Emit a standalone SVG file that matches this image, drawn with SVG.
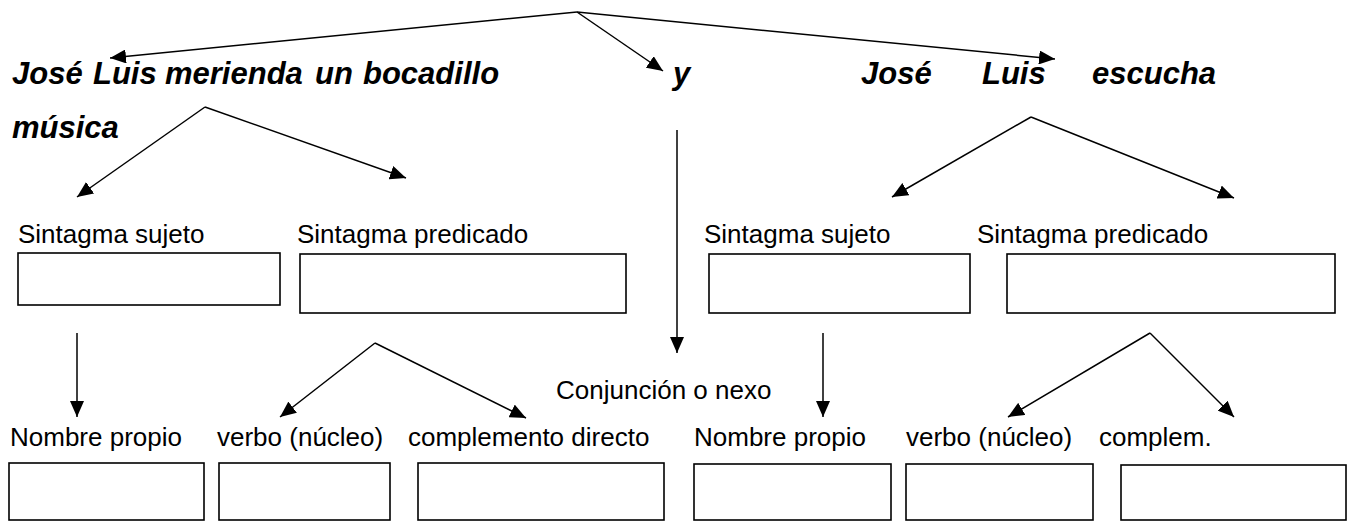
<svg xmlns="http://www.w3.org/2000/svg" width="1353" height="522" viewBox="0 0 1353 522">
<style>
.t{font-family:"Liberation Sans",Arial,sans-serif;font-size:26px;fill:#000}
.b{font-family:"Liberation Sans",Arial,sans-serif;font-size:31px;font-weight:bold;font-style:italic;fill:#000}
.box{fill:#fff;stroke:#000;stroke-width:1.6}
.c line{stroke:#000;stroke-width:1.5;marker-end:url(#ah)}
</style>
<defs>
<marker id="ah" markerUnits="userSpaceOnUse" markerWidth="16" markerHeight="14" refX="16" refY="7" orient="auto">
<path d="M0,0 L16,7 L0,14 z" fill="#000"/>
</marker>
</defs>
<rect width="1353" height="522" fill="#fff"/>
<g id="oracion1">
<text class="b" y="84"><tspan x="12">José</tspan><tspan x="93">Luis</tspan><tspan x="165">merienda</tspan><tspan x="315">un</tspan><tspan x="363">bocadillo</tspan></text>
<text class="b" x="12" y="138">música</text>
</g>
<g id="nexo"><text class="b" x="673" y="84">y</text></g>
<g id="oracion2">
<text class="b" y="84"><tspan x="861">José</tspan><tspan x="982">Luis</tspan><tspan x="1092">escucha</tspan></text>
</g>
<g id="sujeto1"><text class="t" x="18" y="243">Sintagma sujeto</text><rect class="box" x="18" y="253" width="262" height="52"/></g>
<g id="predicado1"><text class="t" x="297" y="243">Sintagma predicado</text><rect class="box" x="300" y="254" width="326" height="59"/></g>
<g id="sujeto2"><text class="t" x="704" y="243">Sintagma sujeto</text><rect class="box" x="709" y="254" width="261" height="59"/></g>
<g id="predicado2"><text class="t" x="977" y="243">Sintagma predicado</text><rect class="box" x="1007" y="254" width="328" height="59"/></g>
<g id="conjuncion"><text class="t" x="556" y="399">Conjunción o nexo</text></g>
<g id="nombre1"><text class="t" x="10" y="446">Nombre propio</text><rect class="box" x="9" y="463" width="195" height="57"/></g>
<g id="verbo1"><text class="t" x="217" y="446">verbo (núcleo)</text><rect class="box" x="219" y="463" width="171" height="57"/></g>
<g id="cd1"><text class="t" x="408" y="446">complemento directo</text><rect class="box" x="418" y="463" width="246" height="57"/></g>
<g id="nombre2"><text class="t" x="694" y="446">Nombre propio</text><rect class="box" x="694" y="464" width="197" height="56"/></g>
<g id="verbo2"><text class="t" x="906" y="446">verbo (núcleo)</text><rect class="box" x="906" y="464" width="187" height="56"/></g>
<g id="cd2"><text class="t" x="1099" y="446">complem.</text><rect class="box" x="1121" y="465" width="225" height="55"/></g>
<g id="connectors" class="c">
<line x1="577" y1="12" x2="110" y2="58"/>
<line x1="577" y1="12" x2="663" y2="71"/>
<line x1="577" y1="12" x2="1055" y2="59"/>
<line x1="205" y1="107" x2="77" y2="197"/>
<line x1="205" y1="107" x2="406" y2="178"/>
<line x1="1031" y1="117" x2="892" y2="197"/>
<line x1="1031" y1="117" x2="1234" y2="198"/>
<line x1="677" y1="130" x2="677" y2="353"/>
<line x1="77" y1="333" x2="77" y2="417"/>
<line x1="375" y1="343" x2="280" y2="417"/>
<line x1="375" y1="343" x2="526" y2="418"/>
<line x1="823" y1="333" x2="823" y2="417"/>
<line x1="1150" y1="333" x2="1008" y2="417"/>
<line x1="1150" y1="333" x2="1234" y2="417"/>
</g>
</svg>
